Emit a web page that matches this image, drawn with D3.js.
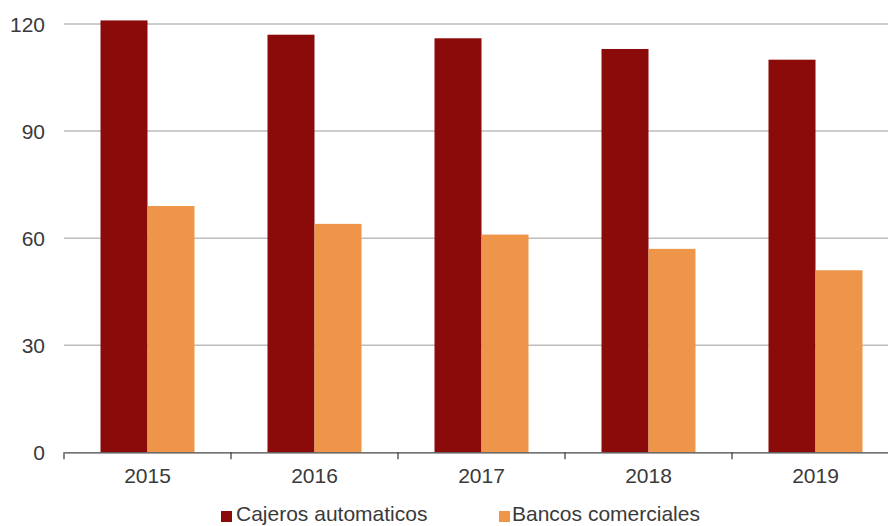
<!DOCTYPE html>
<html>
<head>
<meta charset="utf-8">
<script src="https://cdn.jsdelivr.net/npm/d3@7"></script>
<style>
  html, body { margin: 0; padding: 0; background: #fff; }
  svg { display: block; overflow: hidden; }
  text { font-family: "Liberation Sans", Arial, sans-serif; fill: #3a3a3a; }
</style>
</head>
<body>
<svg id="chart" width="888" height="526"></svg>
<script>
// Years along the axis
const years = ["2015", "2016", "2017", "2018", "2019"];
// Series
const seriesNames = ["Cajeros automaticos", "Bancos comerciales"];
const cajeros = [121, 117, 116, 113, 110];
const bancos = [69, 64, 61, 57, 51];
const seriesColors = ["#8b0b0b", "#ee9549"];
// Value axis ticks
const yTicks = [0, 30, 60, 90, 120];

const svg = d3.select("#chart");
const W = 888, H = 526;
const plotLeft = 64, plotRight = 899, plotTop = 24, plotBottom = 452.3;
const fontSize = 21;

const x0 = d3.scaleBand().domain(years).range([plotLeft, plotRight]).paddingInner(0).paddingOuter(0);
const groupPad = (x0.bandwidth() - 94) / 2;
const x1 = d3.scaleBand().domain(seriesNames).range([groupPad, x0.bandwidth() - groupPad]).padding(0);
const y = d3.scaleLinear().domain([0, 120]).range([plotBottom, plotTop]);
const color = d3.scaleOrdinal().domain(seriesNames).range(seriesColors);

// Horizontal gridlines
svg.append("g")
  .selectAll("line")
  .data(yTicks.filter(d => d > 0))
  .join("line")
  .attr("x1", plotLeft).attr("x2", W)
  .attr("y1", d => y(d)).attr("y2", d => y(d))
  .attr("stroke", "#bdbdbd").attr("stroke-width", 1.5);

// Value labels on the left
svg.append("g")
  .selectAll("text")
  .data(yTicks)
  .join("text")
  .attr("x", 45)
  .attr("y", d => y(d))
  .attr("dy", "0.36em")
  .attr("text-anchor", "end")
  .attr("font-size", fontSize)
  .text(d => d);

// Bars
const rows = years.map((yr, i) => ({ year: yr, values: [cajeros[i], bancos[i]] }));
svg.append("g")
  .selectAll("g")
  .data(rows)
  .join("g")
  .attr("transform", d => `translate(${x0(d.year)},0)`)
  .selectAll("rect")
  .data(d => seriesNames.map((s, j) => ({ s, v: d.values[j] })))
  .join("rect")
  .attr("x", d => x1(d.s))
  .attr("width", x1.bandwidth())
  .attr("y", d => y(d.v))
  .attr("height", d => y(0) - y(d.v))
  .attr("fill", d => color(d.s));

// Category axis
const xAxis = d3.axisBottom(x0).tickSize(0).tickPadding(16);
const gx = svg.append("g").attr("transform", `translate(0,${plotBottom})`).call(xAxis);
gx.select(".domain").attr("stroke", "#444").attr("stroke-width", 1.3);
gx.selectAll("text").attr("font-size", fontSize).attr("fill", "#3a3a3a").attr("font-family", "Liberation Sans, Arial, sans-serif");
// Boundary ticks between categories
const bounds = years.map(d => x0(d)).concat([plotRight]);
gx.append("g").selectAll("line")
  .data(bounds)
  .join("line")
  .attr("x1", d => d).attr("x2", d => d)
  .attr("y1", 0).attr("y2", 7)
  .attr("stroke", "#444").attr("stroke-width", 1.3);

// Legend
const legendX = [221, 499];
const lg = svg.append("g").selectAll("g")
  .data(seriesNames)
  .join("g")
  .attr("transform", (d, i) => `translate(${legendX[i]},511)`);
lg.append("rect").attr("width", 11).attr("height", 11).attr("fill", d => color(d));
lg.append("text").attr("x", (d, i) => i === 0 ? 15 : 13).attr("y", 10).attr("font-size", fontSize).text(d => d);
</script>
</body>
</html>
